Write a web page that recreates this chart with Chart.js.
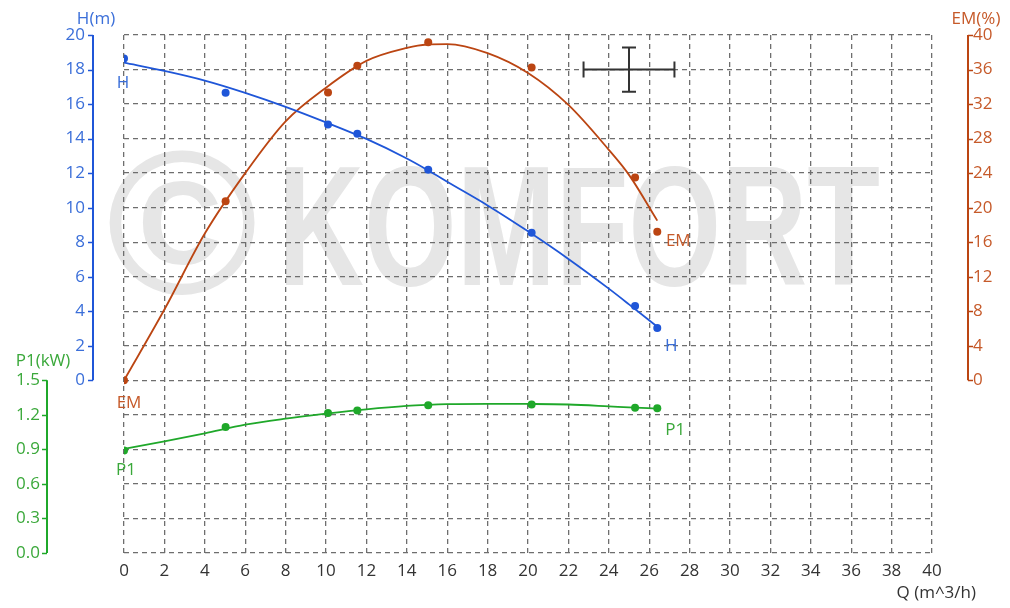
<!DOCTYPE html>
<html>
<head>
<meta charset="utf-8">
<script src="https://cdn.jsdelivr.net/npm/chart.js@4.4.1/dist/chart.umd.min.js"></script>
<style>
  html, body { margin: 0; padding: 0; background: #ffffff; }
  #wrap { width: 1010px; height: 608px; position: relative; }
</style>
</head>
<body>
<div id="wrap"><canvas id="c"></canvas></div>
<script>
// ---- measured points ----
const qPoints  = [0, 5.03, 10.1, 11.55, 15.06, 20.18, 25.3, 26.4];
const hPoints  = [18.64, 16.65, 14.82, 14.28, 12.2, 8.55, 4.3, 3.03];
const emPoints = [0, 20.75, 33.35, 36.45, 39.15, 36.25, 23.5, 17.2];
const p1Points = [0.89, 1.094, 1.216, 1.239, 1.283, 1.289, 1.262, 1.257];

// ---- fitted curves ----
const qCurve  = [0, 2, 4, 6, 8, 10, 12, 14, 15, 16, 18, 20, 22, 24, 25, 26.4];
const hCurve  = [18.4, 17.92, 17.36, 16.65, 15.84, 14.94, 13.98, 12.85, 12.2, 11.5, 10.13, 8.63, 7.03, 5.31, 4.4, 3.1];
const emCurve = [0, 8.2, 17.0, 24.0, 30.0, 33.9, 37.0, 38.5, 38.9, 38.95, 37.9, 35.6, 31.9, 26.7, 23.8, 18.5];
const p1Curve = [0.905, 0.97, 1.04, 1.115, 1.167, 1.21, 1.248, 1.278, 1.287, 1.293, 1.296, 1.295, 1.29, 1.274, 1.265, 1.255];

// ---- axis ranges / tick labels ----
const qTicks  = [0, 40, 2];
const hTicks  = [0, 20, 2];
const emTicks = [0, 40, 4];
const p1Ticks = [0, 1.5, 0.3];

// ---- operating point tolerance cross ----
const crossQ = 25, crossH = 18, crossDQ = 2.25, crossDH = 1.28;

const BLUE = '#1f56d8', BLUE_T = '#3b6fd9';
const RED = '#bb4512', RED_T = '#c65a2a';
const GREEN = '#1fa82a', GREEN_T = '#3aa83a';
const FONT = '"Open Sans", "Noto Sans", sans-serif';

const pts = (xs, ys) => xs.map((x, i) => ({ x: x, y: ys[i] }));

const decorPlugin = {
  id: 'decor',
  beforeDraw(chart) {
    const ctx = chart.ctx;
    ctx.save();
    ctx.fillStyle = '#e6e6e6';
    ctx.textAlign = 'left';
    ctx.textBaseline = 'alphabetic';
    ctx.font = 'bold 205px "Liberation Sans", Arial, sans-serif';
    let m = ctx.measureText('\u00A9');
    let w = m.actualBoundingBoxRight + m.actualBoundingBoxLeft;
    let h = m.actualBoundingBoxAscent + m.actualBoundingBoxDescent;
    ctx.fillText('\u00A9', 182 - w / 2 + m.actualBoundingBoxLeft, 222 - h / 2 + m.actualBoundingBoxAscent);
    ctx.font = 'bold 170px "Liberation Sans", Arial, sans-serif';
    ctx.fillText('KOMFORT', 278, 285, 602);
    ctx.restore();
  },
  afterDraw(chart) {
    const ctx = chart.ctx;
    const s = chart.scales;
    const x = s.x, yH = s.yH, yEM = s.yEM, yP = s.yP;
    ctx.save();

    function axis(scale, xpos, lo, hi, dir, color) {
      ctx.strokeStyle = color;
      ctx.lineWidth = 2;
      ctx.beginPath();
      ctx.moveTo(xpos, scale.getPixelForValue(lo));
      ctx.lineTo(xpos, scale.getPixelForValue(hi));
      ctx.stroke();
      ctx.lineWidth = 1.5;
      scale.ticks.forEach(t => {
        if (t.value < lo - 1e-9 || t.value > hi + 1e-9) return;
        const py = Math.round(scale.getPixelForValue(t.value)) + 0.5;
        ctx.beginPath();
        ctx.moveTo(xpos, py);
        ctx.lineTo(xpos + dir * 5, py);
        ctx.stroke();
      });
    }
    axis(yH, yH.right - 31, hTicks[0], hTicks[1], -1, BLUE);
    axis(yP, yP.right - 3, p1Ticks[0], p1Ticks[1], -1, GREEN);
    axis(yEM, yEM.left + 36, emTicks[0], emTicks[1], 1, RED);

    ctx.font = '17px ' + FONT;
    ctx.textBaseline = 'middle';
    ctx.textAlign = 'center';
    ctx.fillStyle = BLUE_T;  ctx.fillText('H(m)', 96, 19);
    ctx.fillStyle = RED_T;   ctx.fillText('EM(%)', 976, 19);
    ctx.fillStyle = GREEN_T; ctx.fillText('P1(kW)', 43, 361);
    ctx.fillStyle = '#333333';
    ctx.textAlign = 'right';
    ctx.fillText('Q (m^3/h)', 976, 593);

    ctx.textAlign = 'center';
    function lab(txt, q, v, scale, dx, dy, color) {
      ctx.fillStyle = color;
      ctx.fillText(txt, x.getPixelForValue(q) + dx, scale.getPixelForValue(v) + dy);
    }
    const n = qPoints.length - 1;
    lab('H', qPoints[0], hPoints[0], yH, -1, 25, BLUE_T);
    lab('H', qPoints[n], hPoints[n], yH, 14, 18, BLUE_T);
    lab('EM', qPoints[0], emPoints[0], yEM, 5, 23, RED_T);
    lab('EM', qPoints[n], emPoints[n], yEM, 21, 9, RED_T);
    lab('P1', qPoints[0], p1Points[0], yP, 2, 20, GREEN_T);
    lab('P1', qPoints[n], p1Points[n], yP, 18, 22, GREEN_T);

    const cx = x.getPixelForValue(crossQ), cy = yH.getPixelForValue(crossH);
    const x1 = x.getPixelForValue(crossQ - crossDQ), x2 = x.getPixelForValue(crossQ + crossDQ);
    const y1 = yH.getPixelForValue(crossH + crossDH), y2 = yH.getPixelForValue(crossH - crossDH);
    ctx.strokeStyle = '#333333';
    ctx.lineWidth = 2;
    ctx.beginPath();
    ctx.moveTo(x1, cy); ctx.lineTo(x2, cy);
    ctx.moveTo(cx, y1); ctx.lineTo(cx, y2);
    ctx.moveTo(x1, cy - 8); ctx.lineTo(x1, cy + 8);
    ctx.moveTo(x2, cy - 8); ctx.lineTo(x2, cy + 8);
    ctx.moveTo(cx - 7, y1); ctx.lineTo(cx + 7, y1);
    ctx.moveTo(cx - 7, y2); ctx.lineTo(cx + 7, y2);
    ctx.stroke();
    ctx.restore();
  }
};

const pointDs = (data, color, axis) => ({
  type: 'scatter', data: data, yAxisID: axis, showLine: false,
  pointRadius: 4, pointHoverRadius: 4, pointBackgroundColor: color, pointBorderColor: color, borderWidth: 0
});
const curveDs = (data, color, axis) => ({
  type: 'line', data: data, yAxisID: axis, borderColor: color, borderWidth: 1.8,
  pointRadius: 0, cubicInterpolationMode: 'monotone', fill: false
});

const gridColor = '#6e6e6e';
const hiddenTicks = (len) => ({ display: true, drawOnChartArea: false, drawTicks: true, tickLength: len, tickColor: 'rgba(0,0,0,0)' });

new Chart(document.getElementById('c'), {
  type: 'line',
  data: {
    datasets: [
      pointDs(pts(qPoints, hPoints), BLUE, 'yH'),
      pointDs(pts(qPoints, emPoints), RED, 'yEM'),
      pointDs(pts(qPoints, p1Points), GREEN, 'yP'),
      curveDs(pts(qCurve, hCurve), BLUE, 'yH'),
      curveDs(pts(qCurve, emCurve), RED, 'yEM'),
      curveDs(pts(qCurve, p1Curve), GREEN, 'yP')
    ]
  },
  options: {
    responsive: true,
    maintainAspectRatio: false,
    animation: false,
    events: [],
    layout: { padding: { top: 35, left: 0, right: 0, bottom: 0 } },
    plugins: { legend: { display: false }, tooltip: { enabled: false } },
    scales: {
      x: {
        type: 'linear', position: 'bottom', min: qTicks[0], max: qTicks[1],
        afterFit: s => { s.height = 55; },
        border: { display: false, dash: [5, 4] },
        grid: { color: gridColor, lineWidth: 1.3, drawTicks: true, tickLength: 6, tickColor: 'rgba(0,0,0,0)' },
        ticks: { stepSize: qTicks[2], padding: 2, color: '#333333', font: { size: 17, family: FONT } }
      },
      yH: {
        type: 'linear', position: 'left', weight: 0, min: -hTicks[1] / 2, max: hTicks[1],
        afterFit: s => { s.width = 74; },
        border: { display: false, dash: [5, 4] },
        grid: { color: gridColor, lineWidth: 1.3, drawTicks: true, tickLength: 37, tickColor: 'rgba(0,0,0,0)' },
        ticks: {
          stepSize: hTicks[2], padding: 2, color: BLUE_T, font: { size: 17, family: FONT },
          callback: v => (v >= 0 ? String(v) : '')
        }
      },
      yP: {
        type: 'linear', position: 'left', weight: 1, min: 0, max: p1Ticks[1] * 3,
        afterFit: s => { s.width = 50; },
        border: { display: false },
        grid: hiddenTicks(8),
        ticks: {
          stepSize: p1Ticks[2], padding: 2, color: GREEN_T, font: { size: 17, family: FONT },
          callback: v => (v <= p1Ticks[1] + 1e-9 ? v.toFixed(1) : '')
        }
      },
      yEM: {
        type: 'linear', position: 'right', min: -emTicks[1] / 2, max: emTicks[1],
        afterFit: s => { s.width = 78; },
        border: { display: false },
        grid: hiddenTicks(39),
        ticks: {
          stepSize: emTicks[2], padding: 2, color: RED_T, font: { size: 17, family: FONT },
          callback: v => (v >= 0 ? String(v) : '')
        }
      }
    }
  },
  plugins: [decorPlugin]
});
</script>
</body>
</html>
